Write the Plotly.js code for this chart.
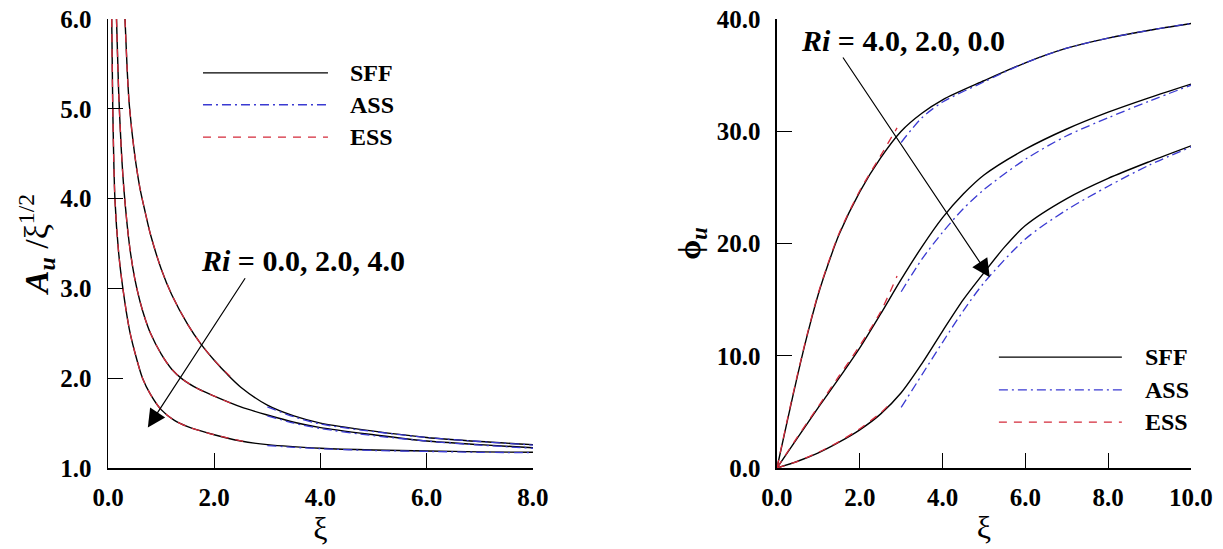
<!DOCTYPE html>
<html>
<head>
<meta charset="utf-8">
<script src="https://cdn.plot.ly/plotly-3.0.1.min.js"></script>
<style>html,body{margin:0;padding:0;background:#fff;}#chart{width:1223px;height:549px;}</style>
</head>
<body>
<div id="chart"></div>
<script>
// ---------- Left panel: A_u / xi^(1/2) ----------
const leftXTicks = [0, 2, 4, 6, 8];
const leftYTicks = [1, 2, 3, 4, 5, 6];

// Ri = 0.0 (top curve)
const sffA_Ri0_x = [0.32, 0.36, 0.4, 0.5, 0.6, 0.7, 0.8, 1.0, 1.2, 1.5, 1.75, 2.0, 2.25, 2.5, 3.0, 3.5, 4.0, 5.0, 6.0, 7.0, 8.0];
const sffA_Ri0_y = [6.0, 5.45, 5.05, 4.5, 4.12, 3.85, 3.6, 3.22, 2.93, 2.6, 2.38, 2.2, 2.04, 1.9, 1.70, 1.58, 1.50, 1.41, 1.34, 1.295, 1.26];
const essA_Ri0_x = [0.32, 0.36, 0.4, 0.5, 0.6, 0.7, 0.8, 1.0, 1.2, 1.5, 1.75, 2.0, 2.3];
const essA_Ri0_y = [6.0, 5.45, 5.05, 4.5, 4.12, 3.85, 3.6, 3.22, 2.93, 2.6, 2.38, 2.2, 2.02];
const assA_Ri0_x = [3.0, 3.5, 4.0, 5.0, 6.0, 7.0, 8.0];
const assA_Ri0_y = [1.68, 1.57, 1.49, 1.405, 1.34, 1.295, 1.255];

// Ri = 2.0 (middle curve)
const sffA_Ri2_x = [0.16, 0.2, 0.25, 0.3, 0.4, 0.5, 0.6, 0.7, 0.8, 1.0, 1.2, 1.4, 1.7, 2.0, 2.5, 3.0, 3.5, 4.0, 5.0, 6.0, 7.0, 8.0];
const sffA_Ri2_y = [6.0, 5.2, 4.55, 4.1, 3.5, 3.12, 2.86, 2.66, 2.5, 2.27, 2.1, 1.99, 1.88, 1.8, 1.68, 1.59, 1.51, 1.45, 1.37, 1.30, 1.26, 1.225];
const essA_Ri2_x = [0.16, 0.2, 0.25, 0.3, 0.4, 0.5, 0.6, 0.7, 0.8, 1.0, 1.2, 1.4, 1.7, 2.0, 2.4];
const essA_Ri2_y = [6.0, 5.2, 4.55, 4.1, 3.5, 3.12, 2.86, 2.66, 2.5, 2.27, 2.1, 1.99, 1.88, 1.8, 1.70];
const assA_Ri2_x = [3.0, 3.5, 4.0, 5.0, 6.0, 7.0, 8.0];
const assA_Ri2_y = [1.58, 1.50, 1.44, 1.36, 1.30, 1.255, 1.22];

// Ri = 4.0 (bottom curve)
const sffA_Ri4_x = [0.07, 0.09, 0.13, 0.2, 0.28, 0.4, 0.5, 0.65, 0.8, 1.0, 1.25, 1.5, 2.0, 2.5, 3.0, 4.0, 5.0, 6.0, 7.0, 8.0];
const sffA_Ri4_y = [6.0, 5.0, 4.0, 3.4, 3.0, 2.55, 2.3, 2.0, 1.82, 1.65, 1.53, 1.46, 1.37, 1.30, 1.26, 1.22, 1.20, 1.19, 1.18, 1.175];
const essA_Ri4_x = [0.07, 0.09, 0.13, 0.2, 0.28, 0.4, 0.5, 0.65, 0.8, 1.0, 1.25, 1.5, 2.0, 2.6];
const essA_Ri4_y = [6.0, 5.0, 4.0, 3.4, 3.0, 2.55, 2.3, 2.0, 1.82, 1.65, 1.53, 1.46, 1.37, 1.29];
const assA_Ri4_x = [3.0, 3.5, 4.0, 5.0, 6.0, 7.0, 8.0];
const assA_Ri4_y = [1.25, 1.23, 1.215, 1.195, 1.185, 1.175, 1.17];

// ---------- Right panel: phi_u ----------
const rightXTicks = [0, 2, 4, 6, 8, 10];
const rightYTicks = [0, 10, 20, 30, 40];

// Ri = 4.0 (top curve)
const sffP_Ri4_x = [0, 0.25, 0.5, 0.75, 1.0, 1.25, 1.5, 2.0, 2.5, 3.0, 3.5, 4.0, 5.0, 6.0, 7.0, 8.0, 9.0, 10.0];
const sffP_Ri4_y = [0, 4.2, 8.3, 12.1, 15.5, 18.3, 20.8, 24.6, 27.6, 30.0, 31.6, 32.8, 34.5, 36.1, 37.4, 38.3, 39.0, 39.6];
const essP_Ri4_x = [0, 0.25, 0.5, 0.75, 1.0, 1.25, 1.5, 2.0, 2.5, 2.9];
const essP_Ri4_y = [0, 4.3, 8.4, 12.2, 15.6, 18.4, 20.9, 24.7, 27.8, 30.3];
const assP_Ri4_x = [3.0, 3.5, 4.0, 5.0, 6.0, 7.0, 8.0, 9.0, 10.0];
const assP_Ri4_y = [29.0, 31.2, 32.6, 34.4, 36.1, 37.4, 38.3, 39.0, 39.6];

// Ri = 2.0 (middle curve)
const sffP_Ri2_x = [0, 0.5, 1.0, 1.5, 2.0, 2.5, 3.0, 3.5, 4.0, 4.5, 5.0, 6.0, 7.0, 8.0, 9.0, 10.0];
const sffP_Ri2_y = [0, 2.7, 5.4, 8.0, 10.7, 13.7, 16.8, 19.7, 22.3, 24.4, 26.1, 28.4, 30.2, 31.7, 33.0, 34.2];
const essP_Ri2_x = [0, 0.5, 1.0, 1.5, 2.0, 2.5, 2.9];
const essP_Ri2_y = [0, 2.8, 5.5, 8.2, 10.9, 13.9, 17.1];
const assP_Ri2_x = [3.0, 3.5, 4.0, 4.5, 5.0, 6.0, 7.0, 8.0, 9.0, 10.0];
const assP_Ri2_y = [15.7, 18.6, 21.0, 23.1, 24.8, 27.5, 29.6, 31.2, 32.7, 34.1];

// Ri = 0.0 (bottom curve)
const sffP_Ri0_x = [0, 0.5, 1.0, 1.5, 2.0, 2.5, 3.0, 3.5, 4.0, 4.5, 5.0, 5.5, 6.0, 7.0, 8.0, 9.0, 10.0];
const sffP_Ri0_y = [0, 0.6, 1.35, 2.3, 3.4, 4.8, 6.7, 9.3, 12.2, 15.0, 17.4, 19.7, 21.6, 24.0, 25.8, 27.3, 28.7];
const essP_Ri0_x = [0, 0.5, 1.0, 1.5, 2.0, 2.5, 2.75];
const essP_Ri0_y = [0, 0.6, 1.4, 2.35, 3.5, 4.9, 5.8];
const assP_Ri0_x = [3.0, 3.5, 4.0, 4.5, 5.0, 6.0, 7.0, 8.0, 9.0, 10.0];
const assP_Ri0_y = [5.4, 8.3, 11.2, 14.0, 16.5, 20.4, 23.0, 25.1, 27.0, 28.6];

const seriesNames = ['SFF', 'ASS', 'ESS'];

// ---------- styling ----------
const FONT = 'Liberation Serif, Times New Roman, serif';
const STY = {
  SFF: {color: '#000000', width: 1.4, dash: 'solid'},
  ASS: {color: '#3a3ad2', width: 1.3, dash: '9px,4px,2px,4px'},
  ESS: {color: '#d42a3a', width: 1.3, dash: '8px,7px'}
};

function tr(name, x, y, xa, ya) {
  return {
    type: 'scatter', mode: 'lines', name: name, x: x, y: y,
    xaxis: xa, yaxis: ya, showlegend: false, hoverinfo: 'skip',
    line: {color: STY[name].color, width: STY[name].width, dash: STY[name].dash, shape: 'spline', smoothing: 0.8}
  };
}

const data = [
  tr('SFF', sffA_Ri0_x, sffA_Ri0_y, 'x', 'y'),
  tr('SFF', sffA_Ri2_x, sffA_Ri2_y, 'x', 'y'),
  tr('SFF', sffA_Ri4_x, sffA_Ri4_y, 'x', 'y'),
  tr('ESS', essA_Ri0_x, essA_Ri0_y, 'x', 'y'),
  tr('ESS', essA_Ri2_x, essA_Ri2_y, 'x', 'y'),
  tr('ESS', essA_Ri4_x, essA_Ri4_y, 'x', 'y'),
  tr('ASS', assA_Ri0_x, assA_Ri0_y, 'x', 'y'),
  tr('ASS', assA_Ri2_x, assA_Ri2_y, 'x', 'y'),
  tr('ASS', assA_Ri4_x, assA_Ri4_y, 'x', 'y'),

  tr('SFF', sffP_Ri4_x, sffP_Ri4_y, 'x2', 'y2'),
  tr('SFF', sffP_Ri2_x, sffP_Ri2_y, 'x2', 'y2'),
  tr('SFF', sffP_Ri0_x, sffP_Ri0_y, 'x2', 'y2'),
  tr('ESS', essP_Ri4_x, essP_Ri4_y, 'x2', 'y2'),
  tr('ESS', essP_Ri2_x, essP_Ri2_y, 'x2', 'y2'),
  tr('ESS', essP_Ri0_x, essP_Ri0_y, 'x2', 'y2'),
  tr('ASS', assP_Ri4_x, assP_Ri4_y, 'x2', 'y2'),
  tr('ASS', assP_Ri2_x, assP_Ri2_y, 'x2', 'y2'),
  tr('ASS', assP_Ri0_x, assP_Ri0_y, 'x2', 'y2')
];

const tickFont = {family: FONT, size: 25, color: '#000', weight: 'bold'};
function axisBase(extra) {
  return Object.assign({
    showline: true, linecolor: '#000', linewidth: 1.5, mirror: false,
    showgrid: false, zeroline: false,
    ticks: 'inside', ticklen: 15, tickwidth: 1.3, tickcolor: '#000',
    tickfont: tickFont, fixedrange: true
  }, extra);
}
const fmt = v => v.toFixed(1);

// Custom long-line legends (drawn in axis-domain coordinates)
function legendItems(xref, yref, x0, x1, xt, ys) {
  const shapes = [], anns = [];
  seriesNames.forEach((n, i) => {
    shapes.push({type: 'line', xref: xref, yref: yref, x0: x0, x1: x1, y0: ys[i], y1: ys[i],
      line: {color: STY[n].color, width: STY[n].width, dash: STY[n].dash}});
    anns.push({xref: xref, yref: yref, x: xt, y: ys[i], xanchor: 'left', yanchor: 'middle',
      text: '<b>' + n + '</b>', showarrow: false, font: {family: FONT, size: 24, color: '#000'}});
  });
  return {shapes, anns};
}
const legL = legendItems('x domain', 'y domain', 0.2235, 0.5176, 0.565, [0.880, 0.809, 0.737]);
const legR = legendItems('x2 domain', 'y2 domain', 0.536, 0.833, 0.885, [0.247, 0.174, 0.102]);

const annFont = {family: FONT, size: 30, color: '#000'};
const annotations = [].concat(legL.anns, legR.anns, [
  {xref: 'x', yref: 'y', x: 1.72, y: 3.31, xanchor: 'left', yanchor: 'middle', showarrow: false,
   text: '<b><i>Ri</i> = 0.0, 2.0, 4.0</b>', font: annFont},
  {xref: 'x', yref: 'y', x: 0.75, y: 1.45, axref: 'x', ayref: 'y', ax: 2.6, ay: 3.13,
   text: '', showarrow: true, arrowhead: 2, arrowsize: 3, arrowwidth: 1.2, arrowcolor: '#000', standoff: 0, startstandoff: 0},
  {xref: 'x2', yref: 'y2', x: 0.53, y: 38.1, xanchor: 'left', yanchor: 'middle', showarrow: false,
   text: '<b><i>Ri</i> = 4.0, 2.0, 0.0</b>', font: annFont},
  {xref: 'x2', yref: 'y2', x: 5.14, y: 17.0, axref: 'x2', ayref: 'y2', ax: 1.57, ay: 36.7,
   text: '', showarrow: true, arrowhead: 2, arrowsize: 3, arrowwidth: 1.2, arrowcolor: '#000', standoff: 0, startstandoff: 0}
]);

const layout = {
  width: 1223, height: 549,
  margin: {l: 108, r: 32, t: 19, b: 81, pad: 0},
  paper_bgcolor: '#fff', plot_bgcolor: '#fff',
  font: {family: FONT, color: '#000'},
  showlegend: false,
  xaxis: axisBase({domain: [0, 0.3924], range: [0, 8], anchor: 'y',
    tickvals: leftXTicks, ticktext: leftXTicks.map(fmt), ticklabelstandoff: 6,
    title: {text: 'ξ', font: {family: FONT, size: 32, color: '#000'}, standoff: 2}}),
  yaxis: axisBase({domain: [0, 1], range: [1, 6], anchor: 'x',
    tickvals: leftYTicks, ticktext: leftYTicks.map(fmt), ticklabelstandoff: 10,
    title: {text: '<b><i>A</i></b><sub><b><i>u</i></b></sub> /ξ<sup>1/2</sup>', font: {family: FONT, size: 34, color: '#000'}, standoff: 0}}),
  xaxis2: axisBase({domain: [0.6177, 1], range: [0, 10], anchor: 'y2',
    tickvals: rightXTicks, ticktext: rightXTicks.map(fmt), ticklabelstandoff: 6,
    title: {text: 'ξ', font: {family: FONT, size: 32, color: '#000'}, standoff: 6}}),
  yaxis2: axisBase({domain: [0, 1], range: [0, 40], anchor: 'x2',
    tickvals: rightYTicks, ticktext: rightYTicks.map(fmt), ticklabelstandoff: 10,
    title: {text: '<b>ϕ</b><sub><b><i>u</i></b></sub>', font: {family: FONT, size: 32, color: '#000'}, standoff: 6}}),
  shapes: [].concat(legL.shapes, legR.shapes),
  annotations: annotations
};

Plotly.newPlot('chart', data, layout, {staticPlot: true, displayModeBar: false});
</script>
</body>
</html>
